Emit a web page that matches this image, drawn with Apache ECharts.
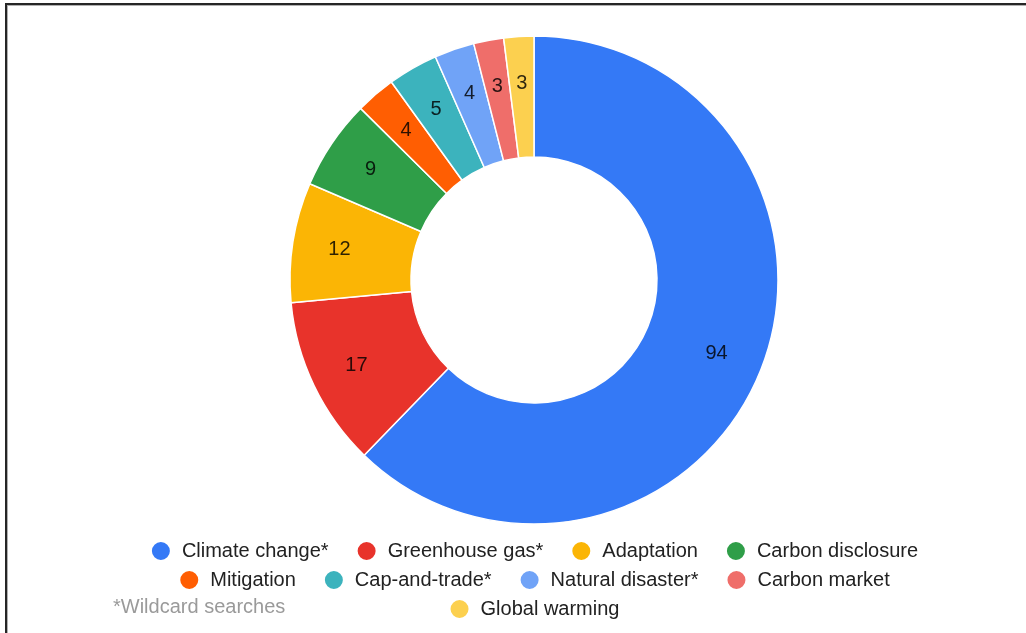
<!DOCTYPE html>
<html>
<head>
<meta charset="utf-8">
<script src="https://cdn.jsdelivr.net/npm/echarts@6/dist/echarts.min.js"></script>
<style>
  html, body { margin: 0; padding: 0; background: #fff; }
  #frame { position: absolute; left: 5px; top: 3px; width: 1021px; height: 630px;
           border-top: 2px solid #262626; border-left: 2px solid #262626; box-sizing: border-box; }
  #frame-inner { position: absolute; left: 0; top: 0; right: 0; bottom: 0;
           border-top: 1px solid #b0b0b0; border-left: 1px solid #b0b0b0; }
  #chart { position: absolute; left: 42px; top: 0; width: 984px; height: 633px; }
</style>
</head>
<body>
<div id="frame"><div id="frame-inner"></div></div>
<div id="chart"></div>
<script>
// Search terms and the number of hits for each
const categories = ['Climate change*', 'Greenhouse gas*', 'Adaptation', 'Carbon disclosure',
                    'Mitigation', 'Cap-and-trade*', 'Natural disaster*', 'Carbon market', 'Global warming'];
const counts = [94, 17, 12, 9, 4, 5, 4, 3, 3];
const colors = ['#3479f6', '#e8332b', '#fbb505', '#2f9e48', '#ff5e02', '#3cb3bd', '#70a3f7', '#ef6e6a', '#fcd04f'];
const legendRows = [
  ['Climate change*', 'Greenhouse gas*', 'Adaptation', 'Carbon disclosure'],
  ['Mitigation', 'Cap-and-trade*', 'Natural disaster*', 'Carbon market'],
  ['Global warming']
];
const footnote = '*Wildcard searches';

const FONT = '"Liberation Sans", Arial, sans-serif';
const data = categories.map((name, i) => ({ name, value: counts[i] }));
const rowCenters = [550, 579, 608];

const chart = echarts.init(document.getElementById('chart'), null, { renderer: 'canvas' });
chart.setOption({
  animation: false,
  color: colors,
  legend: legendRows.map((row, i) => ({
    data: row,
    left: 'center',
    top: rowCenters[i] - 10,
    padding: 0,
    icon: 'circle',
    itemWidth: 20,
    itemHeight: 20,
    itemGap: 27,
    selectedMode: false,
    textStyle: { fontFamily: FONT, fontSize: 20, color: '#222', padding: [0, 0, 0, 6] }
  })),
  graphic: [{
    type: 'text', left: 71, top: rowCenters[2] - 11,
    style: { text: footnote, fontFamily: FONT, fontSize: 20, fill: '#9a9a9a' }
  }],
  series: [
    {
      type: 'pie',
      center: [492, 280],
      radius: [123, 244],
      startAngle: 90,
      clockwise: true,
      label: { show: false },
      labelLine: { show: false },
      itemStyle: { borderColor: '#fff', borderWidth: 1.5 },
      emphasis: { disabled: true },
      data: data
    },
    {
      // label ring: same slices, no fill, labels placed further out on the band
      type: 'pie',
      center: [492, 280],
      radius: [144, 244],
      startAngle: 90,
      clockwise: true,
      silent: true,
      itemStyle: { color: 'rgba(0,0,0,0)', borderWidth: 0 },
      label: {
        show: true, position: 'inside', formatter: '{c}',
        fontFamily: FONT, fontSize: 20, color: 'rgba(0,0,0,0.82)'
      },
      labelLine: { show: false },
      emphasis: { disabled: true },
      data: data
    }
  ]
});
</script>
</body>
</html>
